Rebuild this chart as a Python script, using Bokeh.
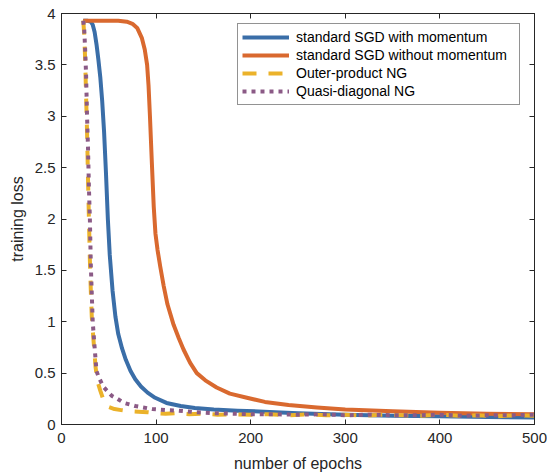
from bokeh.plotting import figure
from bokeh.models import LinearAxis, FixedTicker, CustomJSTickFormatter, Range1d, Legend, LegendItem
from bokeh.embed import file_html
from bokeh.resources import INLINE

# ---- data ----
sgd_mom_epochs = [23, 27, 31, 33, 35, 37, 39, 41, 43, 45, 47, 49, 51, 54, 57, 60, 64, 68, 73, 78, 84, 91,
                  99, 111, 126, 141, 161, 186, 214, 250, 300, 350, 400, 450, 500]
sgd_mom_loss = [3.93, 3.93, 3.92, 3.89, 3.82, 3.70, 3.55, 3.38, 3.15, 2.85, 2.45, 2.00, 1.65, 1.30, 1.05,
                0.88, 0.74, 0.63, 0.52, 0.44, 0.37, 0.31, 0.26, 0.21, 0.18, 0.16, 0.145, 0.135, 0.125,
                0.11, 0.095, 0.085, 0.08, 0.072, 0.068]

sgd_epochs = [23, 40, 60, 69, 75, 80, 85, 88, 90.5, 92, 93.5, 95.5, 97.5, 99.3, 101.5, 104.5, 108, 112,
              118.5, 124, 129, 136, 143, 152, 164, 178, 196, 215, 240, 270, 300, 350, 400, 450, 500]
sgd_loss = [3.93, 3.93, 3.93, 3.92, 3.90, 3.86, 3.76, 3.65, 3.50, 3.30, 3.00, 2.55, 2.12, 1.86, 1.70,
            1.53, 1.35, 1.17, 0.97, 0.84, 0.73, 0.60, 0.50, 0.43, 0.36, 0.30, 0.26, 0.22, 0.19, 0.165,
            0.145, 0.128, 0.115, 0.105, 0.10]

outer_epochs = [23, 24, 25, 26, 27, 28, 29, 30, 31, 32, 34, 36, 38, 41, 45, 50, 56, 63, 71, 81, 91, 101,
                110, 120, 135, 150, 165, 180, 200, 220, 240, 260, 280, 300, 320, 340, 360, 380, 400,
                420, 440, 460, 480, 500]
outer_loss = [3.93, 3.80, 3.55, 3.20, 2.85, 2.40, 2.00, 1.60, 1.30, 1.05, 0.80, 0.56, 0.42, 0.33, 0.22,
              0.17, 0.15, 0.14, 0.13, 0.125, 0.12, 0.11, 0.105, 0.11, 0.10, 0.105, 0.095, 0.10, 0.095,
              0.10, 0.09, 0.10, 0.09, 0.095, 0.085, 0.095, 0.09, 0.085, 0.095, 0.085, 0.09, 0.08, 0.09,
              0.085]

quasi_epochs = [23, 24, 25, 26, 27, 28, 29, 30, 31, 33, 35, 37, 39, 41, 44, 48, 53, 59, 66, 78, 96, 111,
                124, 141, 161, 181, 201, 225, 250, 275, 300, 325, 350, 375, 400, 425, 450, 475, 500]
quasi_loss = [3.93, 3.85, 3.65, 3.40, 3.00, 2.70, 2.30, 2.00, 1.55, 1.00, 0.75, 0.52, 0.47, 0.43, 0.37,
              0.33, 0.28, 0.25, 0.21, 0.18, 0.15, 0.14, 0.135, 0.12, 0.11, 0.105, 0.10, 0.10, 0.095,
              0.10, 0.09, 0.095, 0.09, 0.09, 0.095, 0.085, 0.09, 0.09, 0.095]

series_labels = ["standard SGD with momentum", "standard SGD without momentum",
                 "Outer-product NG", "Quasi-diagonal NG"]

x_ticks = [0, 100, 200, 300, 400, 500]
y_ticks = [0, 0.5, 1, 1.5, 2, 2.5, 3, 3.5, 4]

FONT = "Liberation Sans"
INK = "#262626"

p = figure(width=547, height=474, output_backend="svg", toolbar_location=None,
           x_range=Range1d(0, 500), y_range=Range1d(0, 4),
           min_border_left=61, min_border_right=13, min_border_top=13, min_border_bottom=47,
           x_axis_label="number of epochs", y_axis_label="training loss")
p.xgrid.visible = False
p.ygrid.visible = False
p.outline_line_color = INK
p.outline_line_width = 1
p.background_fill_color = "white"

fmt = CustomJSTickFormatter(code="return tick.toString()")

for ax, ticks in ((p.xaxis[0], x_ticks), (p.yaxis[0], y_ticks)):
    ax.ticker = FixedTicker(ticks=ticks)
    ax.formatter = fmt
    ax.major_tick_in = 5
    ax.major_tick_out = 0
    ax.minor_tick_line_color = None
    ax.axis_line_color = INK
    ax.major_tick_line_color = INK
    ax.major_label_text_font = FONT
    ax.major_label_text_font_size = "15px"
    ax.major_label_text_color = INK
    ax.axis_label_text_font = FONT
    ax.axis_label_text_font_size = "16px"
    ax.axis_label_text_font_style = "normal"
    ax.axis_label_text_color = INK

p.xaxis[0].major_label_standoff = 8
p.xaxis[0].axis_label_standoff = 9
p.yaxis[0].major_label_standoff = 6
p.yaxis[0].axis_label_standoff = 6

for loc, ticks in (("above", x_ticks), ("right", y_ticks)):
    ax = LinearAxis(ticker=FixedTicker(ticks=ticks), major_tick_in=5, major_tick_out=0,
                    minor_tick_line_color=None, axis_line_color=INK, major_tick_line_color=INK,
                    major_label_text_font_size="0px", major_label_standoff=0)
    ax.major_label_text_color = None
    p.add_layout(ax, loc)

r1 = p.line(sgd_mom_epochs, sgd_mom_loss, line_color="#3a6ea8", line_width=4, line_join="round")
r2 = p.line(sgd_epochs, sgd_loss, line_color="#d9692f", line_width=4, line_join="round")
r3 = p.line(outer_epochs, outer_loss, line_color="#ebb22a", line_width=4, line_dash="14 12")
r4 = p.line(quasi_epochs, quasi_loss, line_color="#8b5a86", line_width=4, line_dash="4 5")

legend = Legend(items=[LegendItem(label=lab, renderers=[r])
                       for lab, r in zip(series_labels, [r1, r2, r3, r4])],
                location=(176, 319))
legend.label_text_font = FONT
legend.label_text_font_size = "14px"
legend.label_text_color = "black"
legend.glyph_width = 47
legend.glyph_height = 18
legend.label_height = 18
legend.label_width = 219
legend.label_standoff = 7
legend.spacing = 0
legend.padding = 4
legend.margin = 0
legend.border_line_color = INK
legend.border_line_width = 1
legend.background_fill_color = "white"
legend.background_fill_alpha = 1
p.add_layout(legend, "center")

open("out.html", "w").write(file_html(p, INLINE))
